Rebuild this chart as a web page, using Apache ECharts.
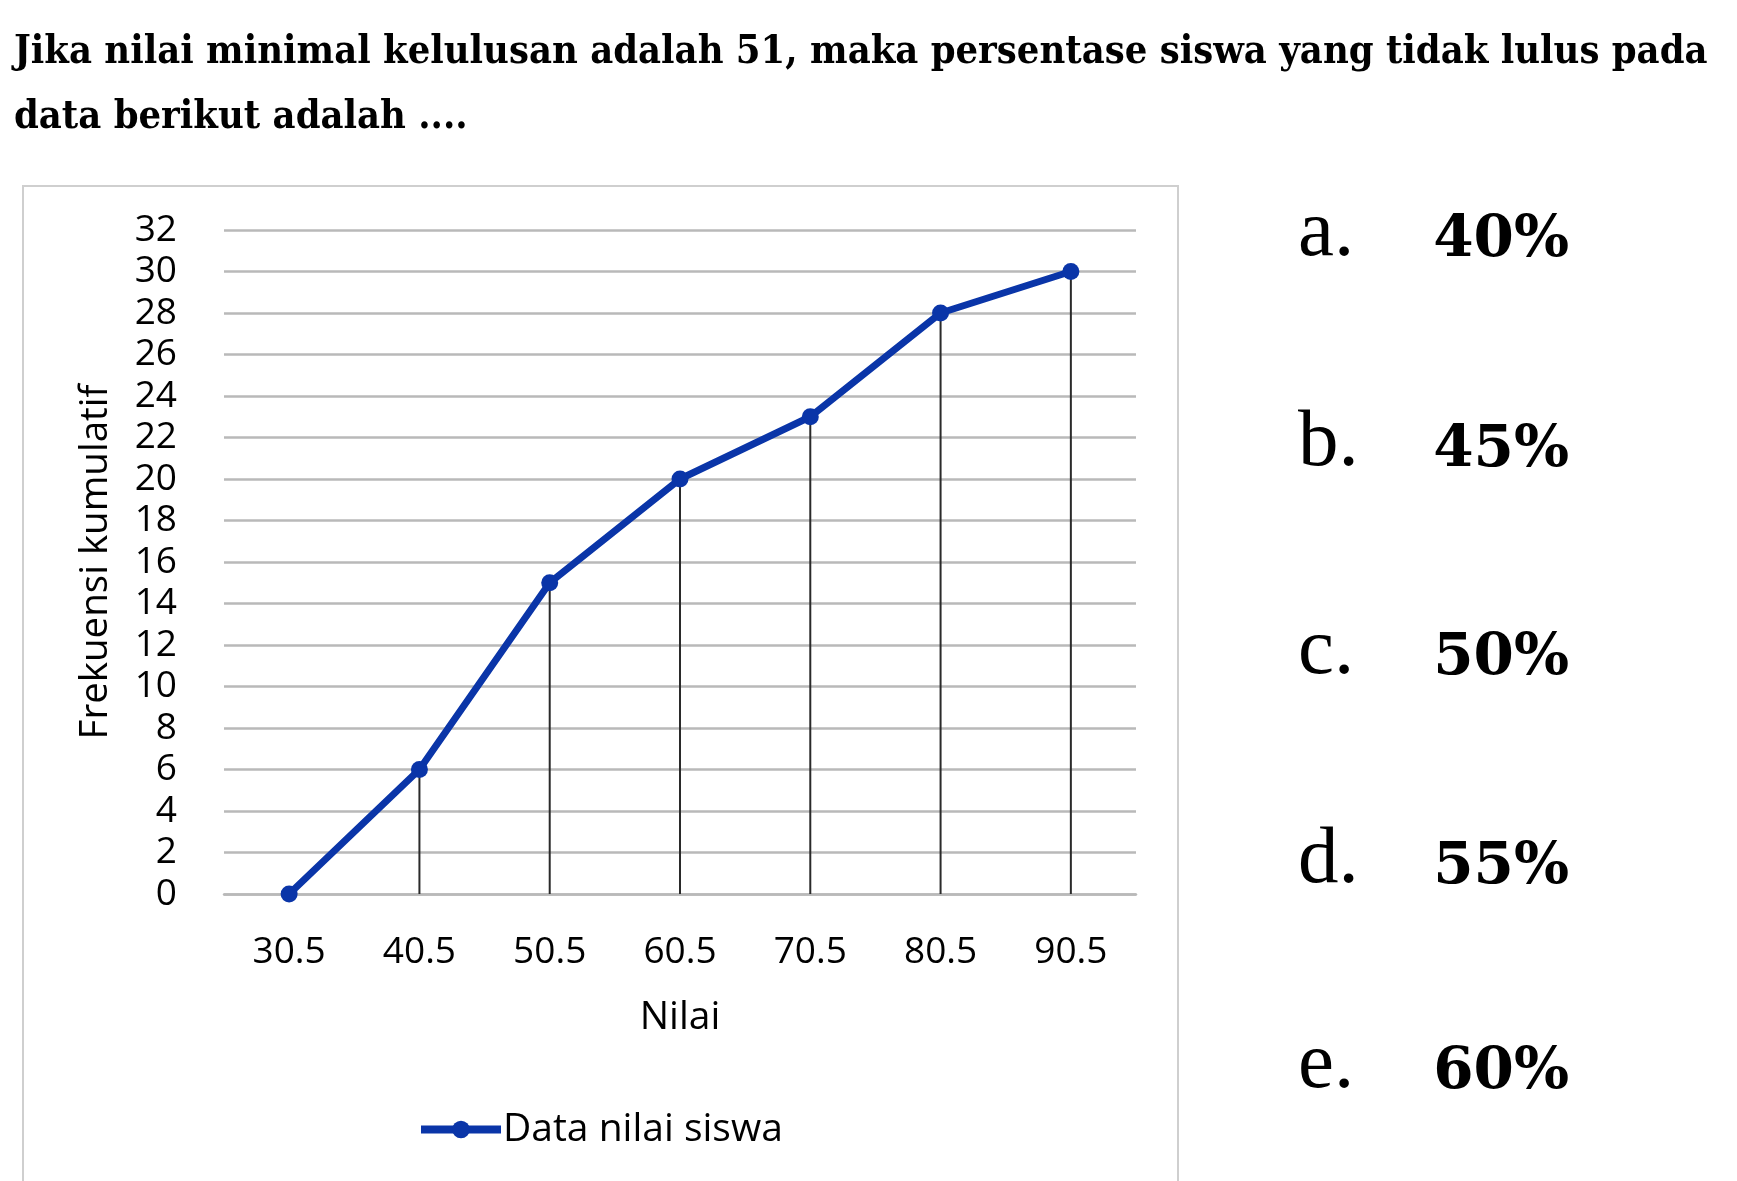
<!DOCTYPE html>
<html>
<head>
<meta charset="utf-8">
<style>
    html, body { margin: 0; padding: 0; background: #fff; }
    #main { width: 1737px; height: 1181px; }
</style>
<script src="https://cdn.jsdelivr.net/npm/echarts@6/dist/echarts.min.js"></script>
</head>
<body>
<div id="main"></div>
<script>
    // data
    let categories = ['30.5', '40.5', '50.5', '60.5', '70.5', '80.5', '90.5'];
    let cumFreq = [0, 6, 15, 20, 23, 28, 30];
    let optionLetters = ['a.', 'b.', 'c.', 'd.', 'e.'];
    let optionValues = ['40%', '45%', '50%', '55%', '60%'];
    let optionBaselines = [262, 472, 680, 889, 1094];

    let sans = '"Open Sans", "Noto Sans", sans-serif';
    let serif = '"Liberation Serif", "DejaVu Serif", serif';
    let grey = '#b9b9b9';
    let blue = '#0a35a8';

    let chart = echarts.init(document.getElementById('main'));

    let graphics = [
        {
            type: 'rect',
            shape: {x: 23, y: 186, width: 1155, height: 1010},
            style: {fill: 'none', stroke: '#cfcfcf', lineWidth: 2},
            silent: true
        }
    ];
    //选项 a-e
    for (let i = 0; i < optionLetters.length; i++) {
        graphics.push({
            type: 'text', x: 1298, y: optionBaselines[i] - 28,
            style: {text: optionLetters[i], font: '81px ' + serif, fill: '#000',
                    textAlign: 'left', textVerticalAlign: 'middle'}
        });
        graphics.push({
            type: 'text', x: 1569, y: optionBaselines[i] - 21,
            style: {text: optionValues[i], font: 'bold 58px "DejaVu Serif", serif', fill: '#000',
                    textAlign: 'right', textVerticalAlign: 'middle'}
        });
    }

    let option = {
        animation: false,
        title: {
            text: 'Jika nilai minimal kelulusan adalah 51, maka persentase siswa yang tidak lulus pada\ndata berikut adalah ....',
            left: 9,
            top: 15,
            textStyle: {
                fontFamily: '"DejaVu Serif Condensed", "DejaVu Serif", serif',
                fontWeight: 'bold',
                fontSize: 39.5,
                lineHeight: 65,
                color: '#000'
            }
        },
        grid: {left: 224, right: 601, top: 230, bottom: 287},
        legend: {
            data: ['Data nilai siswa'],
            left: 417,
            top: 1110,
            padding: 0,
            itemWidth: 80,
            itemHeight: 22,
            itemGap: 4,
            lineStyle: {width: 8, color: blue},
            itemStyle: {color: blue},
            textStyle: {fontFamily: sans, fontSize: 39, color: '#000', padding: [0, 0, 0, -3]}
        },
        xAxis: {
            type: 'category',
            data: categories,
            boundaryGap: true,
            name: 'Nilai',
            nameLocation: 'middle',
            nameGap: 104,
            nameTextStyle: {fontFamily: sans, fontSize: 39, color: '#000'},
            axisTick: {show: false},
            axisLine: {lineStyle: {color: grey, width: 2.5}},
            axisLabel: {margin: 40, fontFamily: sans, fontSize: 37, color: '#000'}
        },
        yAxis: {
            type: 'value',
            min: 0,
            max: 32,
            interval: 2,
            name: 'Frekuensi kumulatif',
            nameLocation: 'middle',
            nameRotate: 90,
            nameGap: 108,
            nameTextStyle: {fontFamily: sans, fontSize: 38.5, color: '#000'},
            axisLine: {show: false},
            axisTick: {show: false},
            axisLabel: {margin: 47, fontFamily: sans, fontSize: 37, color: '#000'},
            splitLine: {lineStyle: {color: grey, width: 2.5}}
        },
        series: [
            {
                // drop lines from each point down to the x axis
                name: 'drop',
                type: 'bar',
                data: cumFreq,
                barWidth: 2,
                itemStyle: {color: '#2a2a2a'},
                silent: true,
                z: 1
            },
            {
                name: 'Data nilai siswa',
                type: 'line',
                data: cumFreq,
                symbol: 'circle',
                symbolSize: 17,
                lineStyle: {color: blue, width: 7},
                itemStyle: {color: blue},
                z: 3
            }
        ],
        graphic: graphics
    };
    chart.setOption(option);
</script>
</body>
</html>
